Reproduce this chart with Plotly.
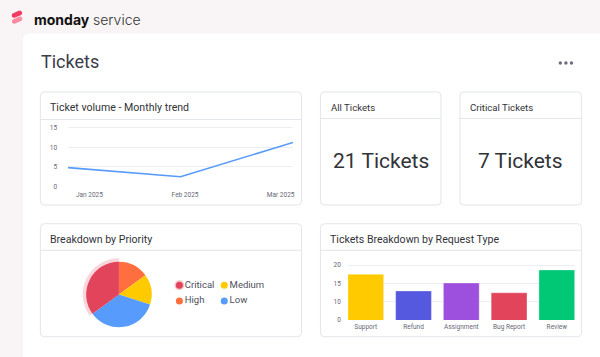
import math
import plotly.graph_objects as go

W, H = 600, 357

# ---------------- data ----------------
months = ["Jan 2025", "Feb 2025", "Mar 2025"]
monthly_tickets = [4.8, 2.5, 11.2]
line_yticks = [0, 5, 10, 15]

kpi_titles = ["All Tickets", "Critical Tickets"]
kpi_values = [21, 7]

priorities = ["High", "Medium", "Low", "Critical"]
priority_counts = [3, 3, 7, 7]
priority_colors = ["#ff6e3e", "#ffcb00", "#579bfc", "#e2445c"]
legend_order = ["Critical", "Medium", "High", "Low"]

request_types = ["Support", "Refund", "Assignment", "Bug Report", "Review"]
request_counts = [17.5, 12.9, 15.1, 12.4, 18.7]
request_colors = ["#ffcb00", "#5559df", "#9d50dd", "#e2445c", "#00c875"]
bar_tick_vals = [5, 10, 15, 20]
bar_tick_text = ["0", "10", "15", "20"]

# ---------------- helpers ----------------
def px(x):
    return x / W

def py(y):
    return 1 - y / H

def rrect(x0, y0, x1, y1, r):
    return (f"M {px(x0+r)},{py(y0)} L {px(x1-r)},{py(y0)} "
            f"Q {px(x1)},{py(y0)} {px(x1)},{py(y0+r)} L {px(x1)},{py(y1-r)} "
            f"Q {px(x1)},{py(y1)} {px(x1-r)},{py(y1)} L {px(x0+r)},{py(y1)} "
            f"Q {px(x0)},{py(y1)} {px(x0)},{py(y1-r)} L {px(x0)},{py(y0+r)} "
            f"Q {px(x0)},{py(y0)} {px(x0+r)},{py(y0)} Z")

def capsule(x1, y1, x2, y2, r, n=10):
    ang = math.atan2(y2 - y1, x2 - x1)
    pts = []
    for i in range(n + 1):
        a = ang - math.pi / 2 + math.pi * i / n
        pts.append((x2 + r * math.cos(a), y2 + r * math.sin(a)))
    for i in range(n + 1):
        a = ang + math.pi / 2 + math.pi * i / n
        pts.append((x1 + r * math.cos(a), y1 + r * math.sin(a)))
    return "M " + " L ".join(f"{px(a)},{py(b)}" for a, b in pts) + " Z"

FONT = "Roboto"
DARK = "#323338"
GREY = "#676879"
BORDER = "#e3e5ec"
GRID = "#eceef3"

fig = go.Figure()

# ---------------- line chart ----------------
fig.add_trace(go.Scatter(
    x=list(range(len(months))), y=monthly_tickets, mode="lines",
    line=dict(color="#579bfc", width=1.6), hoverinfo="skip",
    xaxis="x", yaxis="y"))

# ---------------- bar chart ----------------
fig.add_trace(go.Bar(
    x=request_types, y=request_counts,
    marker=dict(color=request_colors, line=dict(color="rgba(255,255,255,0.35)", width=1)),
    hoverinfo="skip", xaxis="x2", yaxis="y2"))

# ---------------- pie (halo + main) ----------------
cx, cy, r = 119.3, 297.5, 33.3
rh = 36.8
halo_colors = ["rgba(0,0,0,0)" if p != "Critical" else "rgba(226,68,92,0.22)" for p in priorities]
fig.add_trace(go.Pie(
    labels=priorities, values=priority_counts, sort=False, direction="clockwise",
    marker=dict(colors=halo_colors, line=dict(width=0)), textinfo="none", hoverinfo="skip",
    domain=dict(x=[px(cx - rh), px(cx + rh)], y=[py(cy + rh), py(cy - rh)]), showlegend=False))
fig.add_trace(go.Pie(
    labels=priorities, values=priority_counts, sort=False, direction="clockwise",
    marker=dict(colors=priority_colors, line=dict(width=0)), textinfo="none", hoverinfo="skip",
    domain=dict(x=[px(cx - r), px(cx + r)], y=[py(cy + r), py(cy - r)]), showlegend=False))

# ---------------- custom legend ----------------
color_of = dict(zip(priorities, priority_colors))
lx = [i % 2 for i in range(len(legend_order))]
ly = [i // 2 for i in range(len(legend_order))]
fig.add_trace(go.Scatter(
    x=lx, y=ly, mode="markers+text", text=legend_order, textposition="middle right",
    textfont=dict(family=FONT, size=9.5, color="#4e4f5c"),
    marker=dict(size=7, color=[color_of[p] for p in legend_order],
                line=dict(color=["rgba(226,68,92,0.3)" if p == "Critical" else "rgba(0,0,0,0)" for p in legend_order],
                          width=[3 if p == "Critical" else 0 for p in legend_order])),
    hoverinfo="skip", xaxis="x3", yaxis="y3", cliponaxis=False))

# ---------------- axes ----------------
axfont = dict(family=FONT, size=6.5, color=GREY)
line_top, line_bot = 126.1, 188.1
bar_top, bar_bot = 266.2, 323.4
fig.update_layout(
    width=W, height=H, margin=dict(l=0, r=0, t=0, b=0),
    paper_bgcolor="#f9f4f6", plot_bgcolor="rgba(0,0,0,0)", showlegend=False,
    bargap=0.25,
    xaxis=dict(domain=[px(68.3), px(294)], range=[0, 2], showgrid=False, zeroline=False,
               tickvals=[0.19, 1.04, 1.89], ticktext=months, tickfont=axfont, anchor="y",
               ticklabelstandoff=3, fixedrange=True),
    yaxis=dict(domain=[py(line_bot), py(line_top)], range=[-0.1, 15.4], tickvals=line_yticks,
               gridcolor=GRID, gridwidth=1, zeroline=False, tickfont=axfont, anchor="x",
               ticklabelstandoff=10, fixedrange=True),
    xaxis2=dict(domain=[px(349), px(576.7)], range=[-0.375, 4.375], showgrid=False, anchor="y2",
                zeroline=False, tickfont=axfont, ticklabelstandoff=2, fixedrange=True),
    yaxis2=dict(domain=[py(bar_bot), py(bar_top)], range=[4.9, 20.4], tickvals=bar_tick_vals,
                ticktext=bar_tick_text, gridcolor=GRID, gridwidth=1, zeroline=False, anchor="x2",
                tickfont=axfont, ticklabelstandoff=6, fixedrange=True),
    xaxis3=dict(domain=[px(170), px(270)], range=[-10 / 45, 90 / 45], visible=False,
                anchor="y3", fixedrange=True),
    yaxis3=dict(domain=[py(312), py(280)], range=[1.5, -0.5], visible=False,
                anchor="x3", fixedrange=True),
)

# ---------------- shapes ----------------
shapes = []
shapes.append(dict(type="path", path=rrect(23, 32, 640, 400, 7), xref="paper", yref="paper",
                   fillcolor="white", line=dict(width=0), layer="below"))
cards = [(40.5, 91.5, 302.5, 206.5), (321.5, 91.5, 442.5, 206.5), (461.5, 91.5, 583.5, 206.5),
         (40.5, 225.5, 302.5, 340.5), (321.5, 225.5, 583.5, 340.5)]
seps = [119.5, 118.5, 118.5, 252.5, 252.5]
for (x0, y0, x1, y1), s in zip(cards, seps):
    shapes.append(dict(type="path", path=rrect(x0, y0, x1, y1, 4), xref="paper", yref="paper",
                       fillcolor="white", line=dict(color=BORDER, width=1), layer="below"))
    shapes.append(dict(type="line", x0=px(x0), x1=px(x1), y0=py(s), y1=py(s), xref="paper",
                       yref="paper", line=dict(color=BORDER, width=1), layer="below"))
for dx in (562.2, 567.8, 573.4):
    shapes.append(dict(type="circle", xref="paper", yref="paper", x0=px(dx - 1.7), x1=px(dx + 1.7),
                       y0=py(62 + 1.7), y1=py(62 - 1.7), fillcolor="#6b6c7e", line=dict(width=0)))
shapes.append(dict(type="path", path=capsule(14.2, 13.6, 19.8, 11.2, 2.4), xref="paper", yref="paper",
                   fillcolor="#f23a62", line=dict(width=0)))
shapes.append(dict(type="path", path=capsule(14.4, 19.8, 20.0, 17.2, 2.4), xref="paper", yref="paper",
                   fillcolor="#fd8ca2", line=dict(width=0)))
fig.update_layout(shapes=shapes)

# ---------------- annotations ----------------
ann = []
def text(x, y, s, size, color=DARK, anchor="left", family=FONT, weight=None):
    f = dict(family=family, size=size, color=color)
    if weight:
        f["weight"] = weight
    ann.append(dict(x=px(x), y=py(y), xref="paper", yref="paper", text=s, showarrow=False,
                    xanchor=anchor, yanchor="middle", font=f))

text(32, 17.5, "monday", 14, "#111111", family="Inter", weight=700)
text(91.5, 17.8, "service", 14, "#333333", family="Inter", weight=300)
text(39, 61, "Tickets", 18, "#3b3c46")
text(48, 107, "Ticket volume - Monthly trend", 10.6)
text(48, 241.5, "Breakdown by Priority", 10.6)
text(329, 241.5, "Tickets Breakdown by Request Type", 10.6)
kpi_x = [(321.5, 442.5), (461.5, 583.5)]
for (x0, x1), t, v in zip(kpi_x, kpi_titles, kpi_values):
    text(x0 + 8.5, 107, t, 9.6)
    text((x0 + x1) / 2, 161.5, f"{v} Tickets", 21, DARK, anchor="center")
fig.update_layout(annotations=ann)

fig.write_html("out.html", config={"displayModeBar": False},
               post_script="document.body.style.margin='0';document.body.style.overflow='hidden';")
